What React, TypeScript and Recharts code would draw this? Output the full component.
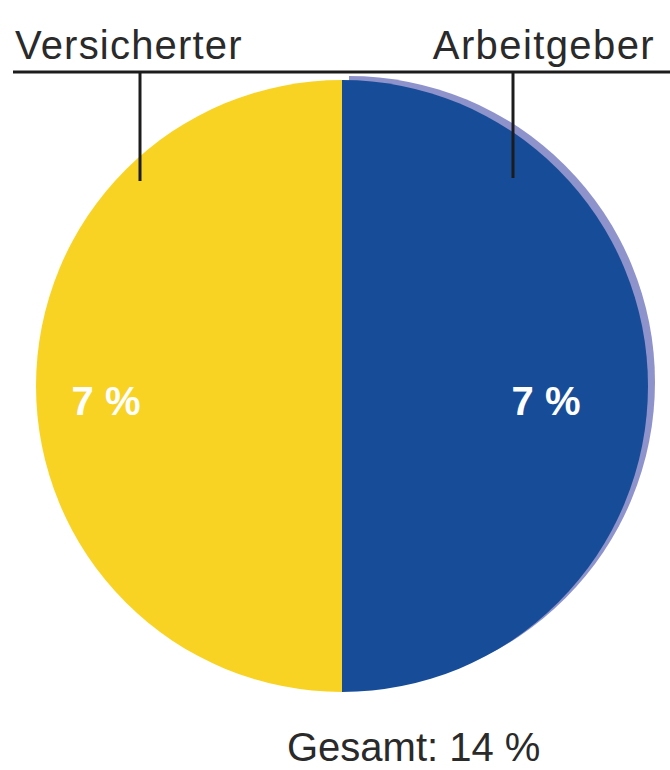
import { Cell, Pie, PieChart } from "recharts";

const parties = ["Versicherter", "Arbeitgeber"];
const shares = [7, 7];
const colors = ["#f8d323", "#174d98"];
const totalLabel = "Gesamt: 14 %";

const slices = parties.map((name, i) => ({ name, value: shares[i] }));
// light rim behind the employer half
const rim = [slices[1]];

const RAD = Math.PI / 180;
const font = "Liberation Sans, Arial, sans-serif";

function renderShare(props: any) {
  const { cx, cy, midAngle, value } = props;
  const onLeft = Math.cos(midAngle * RAD) < 0;
  const r = onLeft ? 236 : 204;
  const x = cx + r * Math.cos(-midAngle * RAD);
  const y = cy + r * Math.sin(-midAngle * RAD);
  return (
    <text
      x={x}
      y={y + 29}
      textAnchor="middle"
      fill="#ffffff"
      fontSize={40}
      fontWeight={700}
      fontFamily={font}
    >
      {`${value} %`}
    </text>
  );
}

export default function App() {
  return (
    <div style={{ position: "absolute", left: 0, top: 0, width: 670, height: 770, background: "#fff" }}>
      <PieChart width={670} height={770} margin={{ top: 0, right: 0, bottom: 0, left: 0 }}>
        <Pie
          data={rim}
          dataKey="value"
          cx={349}
          cy={382}
          outerRadius={306}
          startAngle={90}
          endAngle={-90}
          stroke="none"
          fill="#8f93cc"
          isAnimationActive={false}
        />
        <Pie
          data={slices}
          dataKey="value"
          cx={342}
          cy={386}
          outerRadius={306}
          startAngle={90}
          endAngle={450}
          stroke="none"
          label={renderShare}
          labelLine={false}
          isAnimationActive={false}
        >
          {slices.map((s, i) => (
            <Cell key={s.name} fill={colors[i]} />
          ))}
        </Pie>
      </PieChart>
      {/* header rule, leader lines and captions drawn on top of the pie */}
      <svg
        width={670}
        height={770}
        style={{ position: "absolute", left: 0, top: 0, pointerEvents: "none" }}
      >
        <line x1={13} y1={72} x2={670} y2={72} stroke="#1c1c1c" strokeWidth={3} />
        <line x1={140} y1={72} x2={140} y2={181} stroke="#1c1c1c" strokeWidth={3} />
        <line x1={513} y1={72} x2={513} y2={178} stroke="#1c1c1c" strokeWidth={3} />
        <text x={15} y={59} fontSize={40} fontFamily={font} fill="#2a2a2a" letterSpacing={1.2}>
          {parties[0]}
        </text>
        <text x={655} y={59} fontSize={40} fontFamily={font} fill="#2a2a2a" letterSpacing={1.4} textAnchor="end">
          {parties[1]}
        </text>
        <text x={287} y={761} fontSize={40} fontFamily={font} fill="#2a2a2a">
          {totalLabel}
        </text>
      </svg>
    </div>
  );
}
